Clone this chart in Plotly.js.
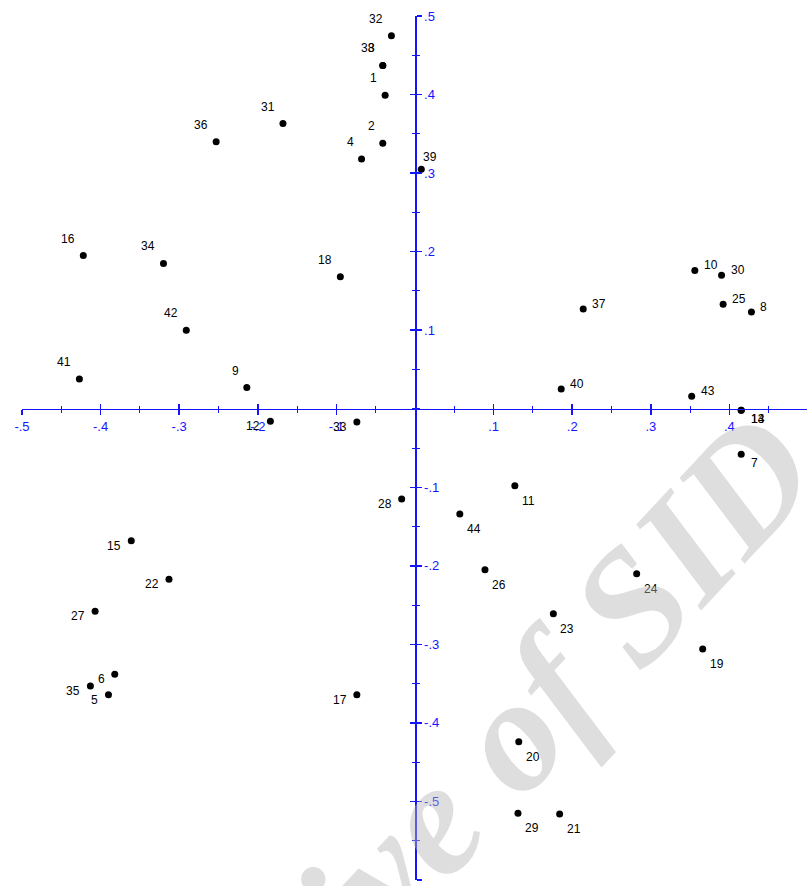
<!DOCTYPE html>
<html>
<head>
<meta charset="utf-8">
<script src="https://cdn.plot.ly/plotly-3.0.1.min.js"></script>
<style>html,body{margin:0;padding:0;background:#fff;}#chart{width:807px;height:886px;}</style>
</head>
<body>
<div id="chart"></div>
<script>
// ---- data ----
const pointIds = ['1','2','3','4','5','6','7','8','9','10','11','12','13','14','15','16','17','18','19','20','21','22','23','24','25','26','27','28','29','30','31','32','33','34','35','36','37','38','39','40','41','42','43','44'];
const dim1 = [-0.038,-0.041,-0.041,-0.068,-0.390,-0.382,0.415,0.428,-0.214,0.356,0.127,-0.184,0.415,0.415,-0.361,-0.422,-0.074,-0.095,0.366,0.132,0.184,-0.313,0.176,0.282,0.392,0.089,-0.407,-0.017,0.131,0.390,-0.168,-0.030,-0.074,-0.320,-0.413,-0.253,0.214,-0.041,0.008,0.186,-0.427,-0.291,0.352,0.057];
const dim2 = [0.399,0.338,0.437,0.318,-0.364,-0.338,-0.058,0.123,0.027,0.176,-0.098,-0.016,-0.002,-0.002,-0.168,0.195,-0.364,0.168,-0.306,-0.424,-0.516,-0.217,-0.261,-0.210,0.133,-0.205,-0.258,-0.115,-0.515,0.170,0.363,0.475,-0.017,0.185,-0.353,0.340,0.127,0.437,0.305,0.025,0.038,0.100,0.016,-0.134];
// label placement code per point
const labelPlace = ['tl','tl','tl','tl','l','l','br2','r','tl','r','br','l','br2','br2','l','tl','l','tl','br','br','br','l','br','br','r','br','l','l','br','r','tl','tl','l','tl','l','tl','r','tl','t','r','tl','tl','r','br'];
const xTickVals = [-0.5,-0.4,-0.3,-0.2,-0.1,0.1,0.2,0.3,0.4,0.5];
const xTickText = ['-.5','-.4','-.3','-.2','-.1','.1','.2','.3','.4','.5'];
const yTickVals = [0.5,0.4,0.3,0.2,0.1,-0.1,-0.2,-0.3,-0.4,-0.5,-0.6];
const yTickText = ['.5','.4','.3','.2','.1','-.1','-.2','-.3','-.4','-.5','-.6'];
const watermarkText = 'Archive of SID';

// ---- styles ----
const AX = '#1414ff';
const placeStyle = {
  tl:  {xanchor:'right', xshift:-6, yshift:17},
  r:   {xanchor:'left',  xshift:7,  yshift:5},
  br:  {xanchor:'left',  xshift:5,  yshift:-15},
  br2: {xanchor:'left',  xshift:8,  yshift:-9},
  l:   {xanchor:'right', xshift:-8, yshift:-5},
  t:   {xanchor:'left',  xshift:0,  yshift:12}
};
const XR = [-0.5, 0.4987];
const YR = [-0.6, 0.5];
const xPos = (0 - YR[0]) / (YR[1] - YR[0]);
const yPos = (0 - XR[0]) / (XR[1] - XR[0]);

const annotations = pointIds.map((id, i) => Object.assign({
  x: dim1[i], y: dim2[i], xref:'x', yref:'y', text:id, showarrow:false,
  yanchor:'middle', font:{family:'Liberation Sans, Arial, sans-serif', size:12, color:'#000'}
}, placeStyle[labelPlace[i]]));

annotations.push({
  xref:'paper', yref:'paper', x:0.530, y:0.078, text:watermarkText, showarrow:false,
  textangle:-47, xanchor:'center', yanchor:'middle',
  font:{family:'Liberation Serif, Times New Roman, serif', size:162, color:'rgba(182,182,182,0.45)', weight:'bold', style:'italic'}
});

const traces = [
  {type:'scatter', mode:'markers', x:dim1, y:dim2, text:pointIds,
   marker:{size:7, color:'#000'}, cliponaxis:false, hoverinfo:'text'},
  {type:'scatter', mode:'markers', x:[0], y:[0], xaxis:'x2', yaxis:'y2',
   marker:{size:1, opacity:0}, hoverinfo:'skip', showlegend:false}
];

const minorX = {ticks:'outside', ticklen:3, tickwidth:1, tickcolor:AX, tickmode:'linear', tick0:0, dtick:0.05, showgrid:false};
const baseX = {range:XR, anchor:'free', position:xPos, showgrid:false, zeroline:false,
  tickmode:'array', tickvals:xTickVals, tickcolor:AX, tickwidth:1.5, ticklen:5};
const baseY = {range:YR, anchor:'free', position:yPos, showgrid:false, zeroline:false,
  tickmode:'array', tickvals:yTickVals, tickcolor:AX, tickwidth:1.5, ticklen:5};

const layout = {
  width:807, height:886,
  margin:{l:22, r:0, t:16, b:6, pad:0},
  paper_bgcolor:'#fff', plot_bgcolor:'#fff',
  showlegend:false,
  xaxis: Object.assign({}, baseX, {
    showline:true, linecolor:AX, linewidth:1.5, ticks:'outside', side:'bottom',
    ticktext:xTickText, showticklabels:true,
    tickfont:{family:'Liberation Sans, Arial, sans-serif', size:13, color:AX},
    minor:minorX
  }),
  yaxis: Object.assign({}, baseY, {
    showline:true, linecolor:AX, linewidth:1.5, ticks:'outside', side:'right',
    ticktext:yTickText, showticklabels:true,
    tickfont:{family:'Liberation Sans, Arial, sans-serif', size:13, color:AX},
    minor:Object.assign({}, minorX)
  }),
  xaxis2: Object.assign({}, baseX, {
    overlaying:'x', side:'bottom', showline:false, ticks:'inside', showticklabels:false,
    minor:Object.assign({}, minorX, {ticks:'inside'})
  }),
  yaxis2: Object.assign({}, baseY, {
    overlaying:'y', side:'right', showline:false, ticks:'inside', showticklabels:false,
    minor:Object.assign({}, minorX, {ticks:'inside'})
  }),
  annotations: annotations
};

Plotly.newPlot('chart', traces, layout, {displayModeBar:false, staticPlot:true});
</script>
</body>
</html>
